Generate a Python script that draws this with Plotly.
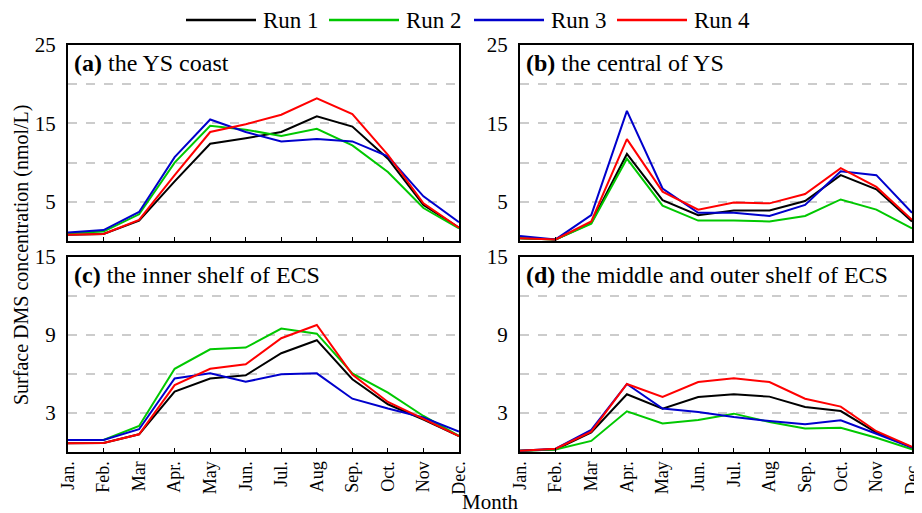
import plotly.graph_objects as go

months = ["Jan.", "Feb.", "Mar", "Apr.", "May", "Jun.", "Jul.", "Aug", "Sep.", "Oct.", "Nov", "Dec."]
runs = ["Run 1", "Run 2", "Run 3", "Run 4"]
colors = ["#000000", "#00c800", "#0000cc", "#ff0000"]

# (a) the YS coast
a_run1 = [0.8, 0.9, 2.6, 7.6, 12.4, 13.1, 13.9, 15.9, 14.6, 10.5, 4.6, 1.7]
a_run2 = [1.0, 1.2, 3.4, 10.0, 14.7, 14.2, 13.4, 14.3, 12.2, 8.8, 4.2, 1.6]
a_run3 = [1.1, 1.4, 3.7, 10.7, 15.5, 13.9, 12.7, 13.0, 12.7, 10.8, 5.7, 2.4]
a_run4 = [0.8, 0.9, 2.7, 8.4, 13.9, 14.9, 16.1, 18.2, 16.2, 11.0, 4.8, 1.7]

# (b) the central of YS
b_run1 = [0.35, 0.2, 2.3, 11.1, 5.2, 3.3, 3.9, 3.9, 5.1, 8.4, 6.6, 2.5]
b_run2 = [0.35, 0.2, 2.2, 10.5, 4.5, 2.6, 2.6, 2.5, 3.2, 5.3, 4.0, 1.6]
b_run3 = [0.65, 0.2, 3.3, 16.6, 6.7, 3.6, 3.6, 3.2, 4.6, 8.9, 8.4, 3.6]
b_run4 = [0.35, 0.2, 2.5, 13.0, 6.3, 4.0, 4.9, 4.8, 6.0, 9.3, 6.9, 2.7]

# (c) the inner shelf of ECS
c_run1 = [0.67, 0.7, 1.36, 4.65, 5.65, 5.9, 7.6, 8.6, 5.6, 3.67, 2.5, 1.23]
c_run2 = [0.92, 0.92, 2.0, 6.4, 7.9, 8.03, 9.5, 9.1, 6.05, 4.57, 2.77, 1.23]
c_run3 = [0.92, 0.92, 1.75, 5.65, 6.05, 5.4, 5.98, 6.05, 4.1, 3.34, 2.65, 1.57]
c_run4 = [0.67, 0.7, 1.36, 5.15, 6.4, 6.75, 8.75, 9.77, 5.95, 3.85, 2.55, 1.23]

# (d) the middle and outer shelf of ECS
d_run1 = [0.1, 0.2, 1.5, 4.44, 3.34, 4.23, 4.44, 4.26, 3.46, 3.15, 1.5, 0.35]
d_run2 = [0.1, 0.2, 0.85, 3.13, 2.2, 2.46, 2.95, 2.3, 1.8, 1.87, 1.1, 0.2]
d_run3 = [0.1, 0.25, 1.7, 5.23, 3.34, 3.08, 2.69, 2.38, 2.13, 2.44, 1.4, 0.35]
d_run4 = [0.1, 0.25, 1.57, 5.23, 4.23, 5.38, 5.67, 5.38, 4.1, 3.49, 1.6, 0.4]

panels = [
    ("<b>(a)</b> the YS coast", [a_run1, a_run2, a_run3, a_run4], "x", "y"),
    ("<b>(b)</b> the central of YS", [b_run1, b_run2, b_run3, b_run4], "x2", "y2"),
    ("<b>(c)</b> the inner shelf of ECS", [c_run1, c_run2, c_run3, c_run4], "x3", "y3"),
    ("<b>(d)</b> the middle and outer shelf of ECS", [d_run1, d_run2, d_run3, d_run4], "x4", "y4"),
]

FONT = "Liberation Serif, Times New Roman, serif"
OFF = 8  # default page body margin
W, H = 922 - OFF, 513 - OFF
ML, MR, MT, MB = 68 - OFF, 10 - OFF, 45 - OFF, 61
PW, PH = W - ML - MR, H - MT - MB

def fx(px):  # page pixel -> paper x
    return (px - OFF - ML) / PW

def fy(py):  # page pixel -> paper y
    return (H - MB - (py - OFF)) / PH

fig = go.Figure()
xi = list(range(12))
for p, (title, series, xa, ya) in enumerate(panels):
    for i, vals in enumerate(series):
        fig.add_trace(go.Scatter(
            x=xi, y=vals, mode="lines", name=runs[i],
            line=dict(color=colors[i], width=2),
            xaxis=xa, yaxis=ya, showlegend=False,
        ))

xdom_l = [fx(68), fx(459)]
xdom_r = [fx(520), fx(912)]
ydom_t = [fy(241), fy(45)]
ydom_b = [fy(452), fy(257)]

def xaxis(dom, anchor, labels):
    return dict(domain=dom, anchor=anchor, range=[0, 11], tickvals=xi,
                ticktext=months, showticklabels=labels, automargin=False,
                tickangle=-90, ticks="inside", ticklen=4, tickcolor="#000",
                showline=True, linecolor="#000", linewidth=2, mirror=True,
                showgrid=False, zeroline=False,
                tickfont=dict(family=FONT, size=18, color="#000"))

def yaxis(dom, anchor, top, step):
    vals = [step * k for k in range(1, 5)] + [top]
    txt = [str(v) if (k % 2 == 0) else "" for k, v in enumerate(vals)]
    return dict(domain=dom, anchor=anchor, range=[0, top], tickvals=vals,
                ticktext=txt, ticks="", showline=True, linecolor="#000",
                linewidth=2, mirror=True, showgrid=True, gridcolor="#cccccc",
                gridwidth=2, griddash="dash", zeroline=False, automargin=False,
                ticklabelstandoff=6,
                tickfont=dict(family=FONT, size=21, color="#000"))

fig.update_layout(
    width=W, height=H,
    margin=dict(l=ML, r=MR, t=MT, b=MB),
    paper_bgcolor="white", plot_bgcolor="white",
    font=dict(family=FONT, size=20, color="#000"),
    xaxis=xaxis(xdom_l, "y", False),
    xaxis2=xaxis(xdom_r, "y2", False),
    xaxis3=xaxis(xdom_l, "y3", True),
    xaxis4=xaxis(xdom_r, "y4", True),
    yaxis=yaxis(ydom_t, "x", 25, 5),
    yaxis2=yaxis(ydom_t, "x2", 25, 5),
    yaxis3=yaxis(ydom_b, "x3", 15, 3),
    yaxis4=yaxis(ydom_b, "x4", 15, 3),
    showlegend=False,
)

# legend drawn across the top
leg_start = [186, 329, 474, 617]
for i, name in enumerate(runs):
    s = leg_start[i]
    fig.add_shape(type="line", xref="paper", yref="paper",
                  x0=fx(s), x1=fx(s + 70), y0=fy(20), y1=fy(20),
                  line=dict(color=colors[i], width=2.5))
    fig.add_annotation(text=name, xref="paper", yref="paper",
                       x=fx(s + 75), y=fy(20), xanchor="left", yanchor="middle",
                       showarrow=False, font=dict(family=FONT, size=23, color="#000"))

for p, (title, series, xa, ya) in enumerate(panels):
    fig.add_annotation(text=title, xref=f"{xa} domain", yref=f"{ya} domain",
                       x=0.01, y=0.985, xanchor="left", yanchor="top",
                       showarrow=False, font=dict(family=FONT, size=24, color="#000"))

fig.add_annotation(text="Surface DMS concentration (nmol/L)", xref="paper", yref="paper",
                   x=fx(22), y=fy(255), textangle=-90, showarrow=False,
                   xanchor="center", yanchor="middle",
                   font=dict(family=FONT, size=20, color="#000"))
fig.add_annotation(text="Month", xref="paper", yref="paper",
                   x=fx(490), y=fy(502), showarrow=False,
                   xanchor="center", yanchor="middle",
                   font=dict(family=FONT, size=21, color="#000"))

fig.write_html("out.html")
